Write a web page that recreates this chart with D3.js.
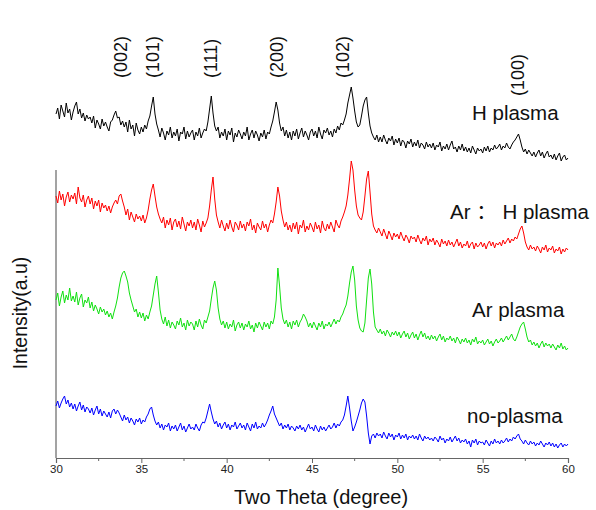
<!DOCTYPE html>
<meta charset="utf-8">
<script src="https://d3js.org/d3.v7.min.js"></script>
<style>
  body { margin: 0; background: #fff; }
  text { font-family: "Liberation Sans", Arial, "Noto Sans CJK SC", sans-serif; }
</style>
<div id="chart"></div>
<script>

// 2-theta grid, 0.1 degree step from 30 to 60
var twoTheta = d3.range(301).map(function(i) { return 30 + i * 0.1; });

// intensities (a.u., already stacked), one value per 0.1 degree
var hPlasma = [
  344,350,339,353,347,341,355,345,349,338, 346,352,356,344,349,340,345,337,343,339,
  341,335,342,330,338,334,329,339,332,336, 331,327,336,338,343,347,340,341,333,337,
  331,336,326,338,329,333,322,335,328,324, 331,326,333,329,337,342,352,361,344,334,
  328,321,330,325,318,327,323,331,320,326, 322,329,317,326,324,331,319,327,321,325,
  328,318,326,322,330,320,325,329,327,336, 349,362,345,332,327,331,320,326,322,329,
  318,327,323,330,316,325,321,328,324,319, 326,322,331,318,324,328,320,327,323,317,
  325,321,328,319,326,324,331,337,346,356, 348,335,327,331,322,328,320,326,318,327,
  322,329,319,325,330,321,327,323,318,326, 329,322,327,320,331,324,319,328,325,330,
  323,327,321,329,325,332,328,335,333,338, 344,355,363,371,360,347,336,331,333,342,
  352,358,361,345,332,325,321,318,323,316, 321,316,323,318,314,320,317,322,313,319,
  315,320,312,318,316,310,317,314,319,311, 316,312,318,310,315,313,309,316,311,314,
  310,315,308,313,311,316,307,312,309,314, 308,313,317,309,311,306,312,308,314,307,
  311,306,310,305,312,308,304,310,307,309, 305,311,307,312,306,310,308,313,309,311,
  314,308,312,310,315,311,309,313,316,318, 321,324,318,311,306,309,304,308,305,302,
  306,301,305,308,302,306,300,304,307,301, 303,299,304,298,302,305,297,301,303,298,300
];

var arHPlasma = [
  262,255,267,258,264,252,261,266,256,263, 259,265,254,271,260,256,263,251,258,262,
  254,260,249,257,252,258,246,255,250,253, 247,252,245,251,255,258,254,262,264,257,
  251,243,249,238,246,241,236,244,239,242, 237,243,235,240,248,259,268,274,262,251,
  244,239,235,241,230,238,233,240,228,236, 239,231,237,229,241,234,227,236,232,238,
  230,236,228,239,233,226,237,231,235,240, 252,268,281,259,243,236,230,238,232,227,
  235,229,238,231,226,236,233,228,237,230, 234,227,236,232,239,228,233,225,235,231,
  228,237,230,234,226,233,238,235,244,256, 271,262,247,238,231,236,228,233,226,235,
  229,236,224,233,230,238,226,232,228,235, 231,226,236,229,233,225,237,230,227,234,
  229,236,231,226,238,233,230,237,241,246, 252,263,279,297,288,268,252,243,240,238,
  246,262,279,287,266,244,232,228,225,230, 226,222,229,224,219,227,223,218,225,221,
  224,219,226,221,217,223,220,215,222,219, 221,216,223,218,214,220,217,222,213,219,
  216,220,213,218,215,211,219,214,217,212, 218,213,216,211,215,219,212,216,210,214,
  212,217,210,214,216,209,215,211,213,216, 211,215,209,214,217,212,216,210,215,213,
  216,212,218,214,217,220,215,219,217,221, 219,224,229,232,225,216,211,208,213,209,
  211,207,212,209,205,211,208,213,206,210, 208,212,205,209,207,211,204,209,206,210,208
];

var arPlasma = [
  158,165,152,161,167,155,163,158,170,157, 162,156,166,153,160,164,151,158,155,161,
  150,156,147,153,149,144,151,146,149,143, 147,141,145,139,146,152,160,171,180,185,
  187,182,176,165,158,152,146,149,141,146, 140,145,137,143,139,146,152,163,174,182,
  166,148,139,134,141,132,138,130,136,133, 129,137,133,140,131,135,128,138,132,136,
  134,128,137,131,139,133,129,138,135,141, 147,159,170,177,168,150,139,133,137,130,
  136,129,134,131,138,127,133,136,130,135, 128,134,131,137,129,133,126,135,130,136,
  132,128,136,131,135,129,137,134,141,158, 190,172,150,139,134,138,131,136,129,137,
  133,138,131,136,139,144,141,137,131,135, 130,136,132,128,135,131,137,129,134,132,
  136,131,135,139,134,138,136,141,144,149, 153,162,175,186,192,178,152,138,130,127,
  126,135,158,180,189,174,146,131,128,125, 129,124,127,122,128,125,121,126,123,127,
  122,126,120,124,127,121,125,119,123,126, 120,124,118,123,127,121,125,119,122,118,
  123,119,122,117,121,124,118,122,116,120, 118,122,117,120,115,121,118,114,119,116,
  120,115,118,113,119,116,121,114,117,115, 118,113,116,119,114,117,112,116,119,115,
  117,120,116,119,122,118,121,124,119,117, 121,126,131,134,136,129,121,116,118,113,
  116,112,115,110,114,117,111,115,112,114, 110,114,111,108,113,110,115,109,112,108,110
];

var noPlasma = [
  52,57,50,55,59,62,54,58,51,55, 49,54,47,52,56,48,53,46,51,49,
  45,50,43,48,52,44,49,42,47,44, 41,46,40,47,49,44,48,45,41,37,
  43,38,41,35,40,37,33,39,36,40, 34,38,36,41,44,49,51,43,37,33,
  36,30,34,28,33,31,35,27,32,29, 33,27,31,35,28,32,26,30,34,29,
  31,28,34,30,27,33,36,35,40,47, 54,46,39,34,37,31,35,29,33,36,
  30,34,28,33,31,36,29,32,35,30, 33,28,35,31,27,34,30,36,29,32,
  30,35,31,34,38,43,47,52,44,40, 36,32,35,29,33,30,34,28,32,30,
  27,32,29,33,28,31,26,30,34,29, 31,27,33,29,26,32,28,31,27,30,
  33,29,31,35,30,34,32,36,38,43, 52,62,50,37,27,31,36,42,48,55,
  59,56,42,25,14,22,24,20,25,22, 24,20,26,22,19,25,21,24,18,23,
  21,25,19,23,20,24,18,22,20,23, 19,22,18,24,20,17,22,19,21,18,
  20,17,21,19,16,22,18,20,15,19, 17,21,16,19,22,17,20,15,18,16,
  19,14,17,11,18,15,19,13,17,15, 16,13,18,15,12,17,14,19,15,17,
  14,18,15,17,20,16,19,17,21,19, 22,24,19,17,14,18,15,13,17,14,
  16,12,15,13,17,14,11,15,13,16, 12,15,11,14,10,13,15,11,14,12,14
];

var seriesNames = ["H plasma", "Ar \uFF1A H plasma", "Ar plasma", "no-plasma"];
var seriesValues = [hPlasma, arHPlasma, arPlasma, noPlasma];
var seriesColors = ["#000000", "#ff0000", "#10e010", "#0000ff"];

var peakLabels = ["(002)", "(101)", "(111)", "(200)", "(102)", "(100)"];
var peakTheta = [33.8, 35.7, 39.1, 42.95, 46.8, 57.05];

var xTicks = [30, 35, 40, 45, 50, 55, 60];

var svg = d3.select("#chart")
  .append("svg")
    .attr("width", 596)
    .attr("height", 510);

var x = d3.scaleLinear().domain([30, 60]).range([56, 568]);
var y = d3.scaleLinear().domain([0, 400]).range([458, 58]);

// bottom axis
var xAxis = d3.axisBottom(x)
    .tickValues(xTicks)
    .tickSize(5)
    .tickFormat(d3.format("d"));

var gx = svg.append("g")
    .attr("transform", "translate(0,458)")
    .call(xAxis);
gx.select(".domain").attr("stroke", "#666").attr("stroke-width", 1.2);
gx.selectAll(".tick line").attr("stroke", "#666");
gx.selectAll(".tick text")
    .attr("fill", "#222")
    .style("font-size", "11.5px")
    .attr("dy", "0.6em");

// minor ticks
svg.append("g")
  .selectAll("line")
  .data(d3.range(32.5, 60, 5))
  .enter()
  .append("line")
    .attr("x1", function(d) { return x(d); })
    .attr("x2", function(d) { return x(d); })
    .attr("y1", 458)
    .attr("y2", 461)
    .attr("stroke", "#666");

// left axis line, no ticks
svg.append("line")
    .attr("x1", 56).attr("x2", 56)
    .attr("y1", 170).attr("y2", 458)
    .attr("stroke", "#666")
    .attr("stroke-width", 1.2);

// the four patterns
var line = d3.line()
    .x(function(d, i) { return x(twoTheta[i]); })
    .y(function(d) { return y(d); });

svg.append("g")
  .selectAll("path")
  .data(seriesValues)
  .enter()
  .append("path")
    .attr("d", line)
    .attr("fill", "none")
    .attr("stroke", function(d, i) { return seriesColors[i]; })
    .attr("stroke-width", 1)
    .attr("stroke-linejoin", "round");

// pattern names
var nameX = [472, 450, 472, 467];
var nameY = [120, 219, 317, 423];
svg.append("g")
  .selectAll("text")
  .data(seriesNames)
  .enter()
  .append("text")
    .attr("x", function(d, i) { return nameX[i]; })
    .attr("y", function(d, i) { return nameY[i]; })
    .style("font-size", "20.5px")
    .attr("fill", "#111")
    .text(function(d) { return d; });

// peak indices
svg.append("g")
  .selectAll("text")
  .data(peakLabels)
  .enter()
  .append("text")
    .attr("transform", function(d, i) {
      var by = (i === 5) ? 96 : 78;
      return "translate(" + (x(peakTheta[i]) + 6) + "," + by + ") rotate(-90)";
    })
    .style("font-size", "18px")
    .attr("fill", "#111")
    .text(function(d) { return d; });

// axis titles
svg.append("text")
    .attr("x", 321)
    .attr("y", 504)
    .attr("text-anchor", "middle")
    .style("font-size", "20px")
    .attr("fill", "#111")
    .text("Two Theta (degree)");

svg.append("text")
    .attr("transform", "translate(27,313) rotate(-90)")
    .attr("text-anchor", "middle")
    .style("font-size", "19.5px")
    .attr("fill", "#111")
    .text("Intensity(a.u)");

</script>
